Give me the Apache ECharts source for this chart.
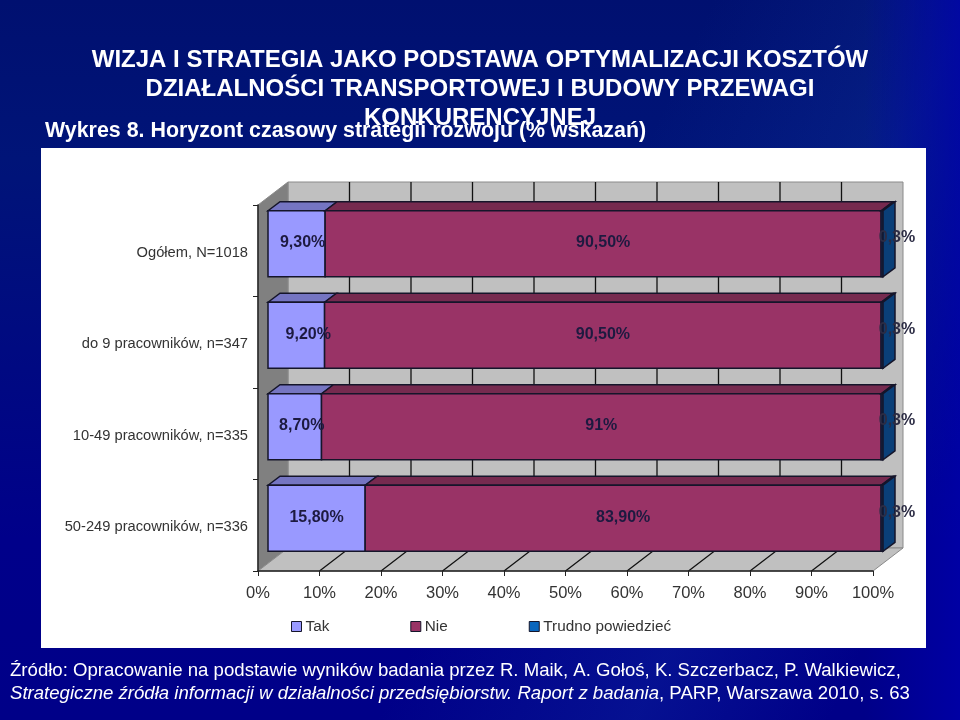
<!DOCTYPE html>
<html>
<head>
<meta charset="utf-8">
<style>
  html, body { margin: 0; padding: 0; width: 960px; height: 720px; overflow: hidden; }
  body {
    background:
      linear-gradient(90deg, rgba(0,0,170,0) 90%, rgba(0,0,175,.7) 100%),
      linear-gradient(115deg, rgba(0,30,110,0) 55%, rgba(20,60,170,.28) 75%, rgba(0,20,120,0) 90%),
      linear-gradient(180deg, #001070 0%, #001478 22%, #00008a 75%, #000088 100%);
  }
  #main { width: 960px; height: 720px; }
</style>
</head>
<body>
<div id="main"></div>
<script src="https://cdn.jsdelivr.net/npm/echarts@6/dist/echarts.min.js"></script>
<script>
const categories = ['Ogółem, N=1018', 'do 9 pracowników, n=347', '10-49 pracowników, n=335', '50-249 pracowników, n=336'];
const seriesNames = ['Tak', 'Nie', 'Trudno powiedzieć'];
const tak = [9.3, 9.2, 8.7, 15.8];
const nie = [90.5, 90.5, 91, 83.9];
const trudno = [0.3, 0.3, 0.3, 0.3];
const takLabels = ['9,30%', '9,20%', '8,70%', '15,80%'];
const nieLabels = ['90,50%', '90,50%', '91%', '83,90%'];
const trudnoLabels = ['0,3%', '0,3%', '0,3%', '0,3%'];

const values = [tak, nie, trudno];
const labels = [takLabels, nieLabels, trudnoLabels];
const fronts = ['#9999ff', '#993366', '#0a66bd'];
const tops = ['#7575c2', '#762a4f', '#0a3f78'];
const font = '"Liberation Sans", Arial, sans-serif';

// glebokosc wykresu i slupkow (px), przesuniecie slupka wzgledem osi
const wallDx = 30, wallDy = -23;
const barDx = 12, barDy = -9;
const planeDx = 10, planeDy = -7;
const barHeight = 66;
const edge = { stroke: '#15152a', lineWidth: 1.5 };
// etykiety Tak sa w oryginale przesuniete recznie
const takNudge = [6, 12, 7, 0];

function poly(points, fill, extra) {
  return {
    type: 'polygon',
    shape: { points: points },
    style: Object.assign({ fill: fill }, extra || edge)
  };
}

// jako procent calosci, bo wykres jest 100% skumulowany
function segment(s, i) {
  const sum = tak[i] + nie[i] + trudno[i];
  let start = 0;
  for (let k = 0; k < s; k++) start += values[k][i];
  return [start / sum * 100, (start + values[s][i]) / sum * 100];
}

function renderWalls(params, api) {
  const c = params.coordSys;
  const left = c.x, right = c.x + c.width, top = c.y, bottom = c.y + c.height;
  const wall = { stroke: '#8a8a8a', lineWidth: 1 };
  const children = [
    poly([[left + wallDx, top + wallDy], [right + wallDx, top + wallDy], [right + wallDx, bottom + wallDy], [left + wallDx, bottom + wallDy]], '#c0c0c0', wall),
    poly([[left, top], [left + wallDx, top + wallDy], [left + wallDx, bottom + wallDy], [left, bottom]], '#808080', wall),
    poly([[left, bottom], [right, bottom], [right + wallDx, bottom + wallDy], [left + wallDx, bottom + wallDy]], '#c0c0c0', wall)
  ];
  for (let v = 10; v < 100; v += 10) {
    const x = api.coord([v, 0])[0];
    children.push({
      type: 'polyline',
      shape: { points: [[x, bottom], [x + wallDx, bottom + wallDy], [x + wallDx, top + wallDy]] },
      style: { fill: null, stroke: '#111', lineWidth: 1.3 }
    });
  }
  return { type: 'group', children: children };
}

function makeBars(s) {
  return function (params, api) {
    const i = api.value(0);
    const seg = segment(s, i);
    const x0 = api.coord([seg[0], i])[0] + planeDx;
    const x1 = api.coord([seg[1], i])[0] + planeDx;
    const y0 = api.coord([0, i])[1] + planeDy - barHeight / 2;
    const y1 = y0 + barHeight;
    const children = [
      poly([[x0, y0], [x0 + barDx, y0 + barDy], [x1 + barDx, y0 + barDy], [x1, y0]], tops[s]),
      poly([[x0, y0], [x1, y0], [x1, y1], [x0, y1]], fronts[s])
    ];
    if (s === 2) {
      children.push(poly([[x1, y0], [x1 + barDx, y0 + barDy], [x1 + barDx, y1 + barDy], [x1, y1]], tops[s]));
    }
    return { type: 'group', children: children };
  };
}

function renderLabels(params, api) {
  const s = api.value(0), i = api.value(1);
  const seg = segment(s, i);
  const yc = api.coord([0, i])[1] + planeDy;
  let x = api.coord([(seg[0] + seg[1]) / 2, i])[0] + planeDx;
  let y = yc - 1;
  if (s === 0) x += takNudge[i];
  if (s === 2) { x = api.coord([100, i])[0] + planeDx + 14; y = yc - 6; }
  return {
    type: 'text',
    style: {
      x: x, y: y, text: labels[s][i], align: 'center', verticalAlign: 'middle',
      font: 'bold 16px ' + font, fill: s === 2 ? '#2c2c44' : '#1d1a40'
    }
  };
}

const labelRows = [];
values.forEach(function (v, s) {
  v.forEach(function (_, i) { labelRows.push([s, i]); });
});
const catRows = categories.map(function (_, i) { return [i]; });

const series = [{
  type: 'custom', name: 'walls', z: 1, silent: true,
  coordinateSystem: 'cartesian2d',
  renderItem: renderWalls, data: [[0]], encode: { x: 0 }
}];
seriesNames.forEach(function (name, s) {
  series.push({
    type: 'custom', name: name, z: 2,
    coordinateSystem: 'cartesian2d',
    itemStyle: { color: fronts[s] },
    renderItem: makeBars(s), data: catRows, encode: { y: 0 }
  });
});
series.push({
  type: 'custom', name: 'labels', z: 4, silent: true,
  coordinateSystem: 'cartesian2d',
  renderItem: renderLabels, data: labelRows, encode: { x: 0 }
});

function headline(text, y) {
  return {
    type: 'text', z: 1, style: {
      x: 480, y: y, text: text, align: 'center', verticalAlign: 'middle',
      font: 'bold 24px ' + font, fill: '#fff',
      shadowColor: '#000', shadowBlur: 2, shadowOffsetX: 2, shadowOffsetY: 2
    }
  };
}

const chart = echarts.init(document.getElementById('main'));
chart.setOption({
  backgroundColor: 'transparent',
  animation: false,
  textStyle: { fontFamily: font },
  grid: { left: 258, top: 205, width: 615, height: 366 },
  legend: {
    left: 286, top: 614, itemWidth: 10, itemHeight: 10, itemGap: 81,
    data: seriesNames.map(function (n) {
      return { name: n, icon: 'rect', itemStyle: { borderColor: '#15152a', borderWidth: 1 } };
    }),
    textStyle: { fontFamily: font, fontSize: 15.3, color: '#333', padding: [0, 0, 0, -1] }
  },
  xAxis: {
    type: 'value', min: 0, max: 100, interval: 10, z: 3,
    axisLine: { show: true, onZero: false, lineStyle: { color: '#222', width: 1.5 } },
    axisTick: { show: true, length: 5, lineStyle: { color: '#222' } },
    splitLine: { show: false },
    axisLabel: { formatter: '{value}%', fontFamily: font, fontSize: 16.5, color: '#333', margin: 14, hideOverlap: false }
  },
  yAxis: {
    type: 'category', inverse: true, data: categories, z: 3,
    axisLine: { show: true, lineStyle: { color: '#222', width: 1.5 } },
    axisTick: { show: true, length: 5, lineStyle: { color: '#222' } },
    splitLine: { show: false },
    axisLabel: {
      margin: 10, interval: 0,
      formatter: '{a|{value}}',
      rich: { a: { fontFamily: font, fontSize: 14.7, color: '#333', padding: [4, 0, 0, 0] } }
    }
  },
  graphic: [
    { type: 'rect', z: 0, shape: { x: 41, y: 148, width: 885, height: 500 }, style: { fill: '#fff' } },
    headline('WIZJA I STRATEGIA JAKO PODSTAWA OPTYMALIZACJI KOSZTÓW', 60),
    headline('DZIAŁALNOŚCI TRANSPORTOWEJ I BUDOWY PRZEWAGI', 89),
    headline('KONKURENCYJNEJ', 118),
    {
      type: 'text', z: 1, style: {
        x: 45, y: 131, text: 'Wykres 8. Horyzont czasowy strategii rozwoju (% wskazań)',
        verticalAlign: 'middle', font: 'bold 21.4px ' + font, fill: '#fff'
      }
    },
    {
      type: 'text', z: 1, style: {
        x: 10, y: 671, verticalAlign: 'middle', font: '18.6px ' + font, fill: '#fff',
        text: 'Źródło: Opracowanie na podstawie wyników badania przez R. Maik, A. Gołoś, K. Szczerbacz, P. Walkiewicz,'
      }
    },
    {
      type: 'text', z: 1, style: {
        x: 10, y: 694, verticalAlign: 'middle', fill: '#fff', font: '18.6px ' + font,
        text: '{i|Strategiczne źródła informacji w działalności przedsiębiorstw. Raport z badania}, PARP, Warszawa 2010, s. 63',
        rich: { i: { font: 'italic 18.6px ' + font, fill: '#fff' } }
      }
    }
  ],
  series: series
});
</script>
</body>
</html>
